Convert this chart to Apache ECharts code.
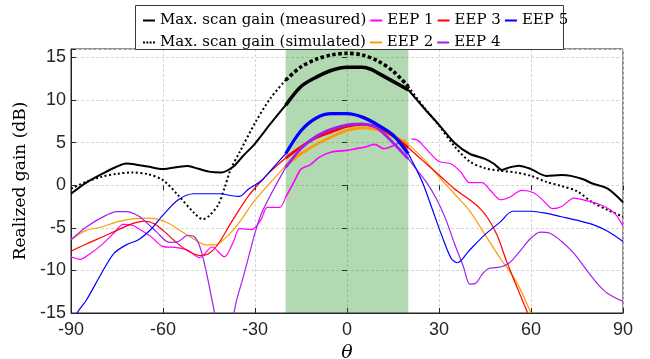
<!DOCTYPE html>
<html>
<head>
<meta charset="utf-8">
<script src="https://cdn.jsdelivr.net/npm/echarts@6/dist/echarts.min.js"></script>
<style>
  html, body { margin: 0; padding: 0; background: #fff; }
  #chart { width: 650px; height: 359px; }
</style>
</head>
<body>
<div id="chart"></div>
<script>
const xTicks = [-90, -60, -30, 0, 30, 60, 90];
const yTicks = [-15, -10, -5, 0, 5, 10, 15];
const band = [-20, 20];

const measTheta = [-90, -85, -80, -75, -72, -70, -65, -60, -55, -52, -50, -45, -41, -37, -34, -30, -25, -20, -15, -10, -5, 0, 5, 8, 10, 15, 20, 25, 30, 35, 40, 45, 48, 50.5, 53, 56, 60, 65, 70, 73, 77, 80, 85, 90];
const measGain = [-1.0, 0.3, 1.3, 2.2, 2.55, 2.5, 2.2, 1.9, 2.15, 2.25, 2.1, 1.6, 1.5, 2.2, 3.4, 4.9, 7.2, 9.4, 11.6, 12.7, 13.5, 13.85, 13.85, 13.6, 13.2, 12.2, 11.2, 9.1, 7.1, 5.0, 3.7, 3.1, 2.5, 1.8, 2.1, 2.3, 1.9, 1.1, 1.2, 1.1, 0.7, 0.2, -0.4, -2.0];

const simTheta = [-90, -85, -80, -75, -70, -65, -60, -55, -50, -47, -45, -42, -40, -38, -35, -30, -25, -20, -15, -10, -5, 0, 5, 10, 15, 20, 25, 30, 35, 40, 45, 50, 55, 60, 65, 70, 75, 80, 85, 90];
const simGain = [-0.4, 0.4, 1.0, 1.35, 1.5, 1.3, 0.6, -1.2, -3.2, -4.0, -3.6, -2.3, -0.4, 1.8, 3.9, 7.3, 10.2, 12.35, 13.9, 14.8, 15.3, 15.5, 15.3, 14.6, 13.4, 11.6, 9.2, 7.0, 4.6, 2.8, 2.0, 1.7, 1.5, 1.1, 0.4, -0.1, -0.7, -2.0, -2.9, -3.7];

const eep1Theta = [-90, -87, -84, -80, -76, -73, -70, -67, -64, -60, -56, -52, -48, -44, -40, -37, -35, -31, -28, -26, -22, -20, -17, -15, -12, -9, -5, 0, 3, 6, 9, 12, 16, 19, 21, 23, 25, 27, 30, 34, 37, 40, 44, 47, 50, 53, 57, 61, 64, 67, 70, 74, 78, 82, 86, 88, 90];
const eep1Gain = [-8.4, -8.7, -8.1, -7.0, -5.6, -4.6, -4.7, -5.3, -6.0, -7.2, -7.3, -7.6, -8.5, -7.25, -8.4, -6.6, -5.1, -5.2, -4.0, -2.6, -2.6, -1.4, 0.6, 1.9, 2.4, 3.3, 3.9, 4.1, 4.3, 4.5, 4.8, 4.3, 4.8, 5.3, 5.45, 5.3, 4.6, 3.8, 2.8, 2.5, 1.6, 0.3, 0.3, -0.7, -1.7, -1.4, -0.6, -0.9, -1.8, -2.75, -2.5, -1.5, -1.8, -2.2, -2.9, -3.6, -4.8];

const eep2Theta = [-90, -85, -80, -75, -70, -65, -62, -58, -55, -50, -46, -43, -40, -37, -34, -31, -28, -25, -20, -15, -10, -5, 0, 5, 10, 15, 20, 25, 30, 35, 40, 45, 50, 55, 60];
const eep2Gain = [-6.4, -5.3, -4.9, -4.3, -3.95, -3.85, -3.95, -4.5, -5.2, -6.3, -7.0, -7.0, -6.3, -5.2, -3.8, -2.2, -0.9, 0.3, 2.3, 3.7, 4.8, 5.7, 6.45, 6.75, 6.5, 5.8, 4.8, 3.1, 1.0, -1.0, -3.0, -5.8, -8.6, -11.2, -15.0];

const eep3Theta = [-90, -85, -80, -75, -70, -66, -63, -60, -56, -52, -48, -45, -42, -38, -35, -32, -28, -25, -20, -15, -10, -5, 0, 5, 10, 15, 20, 25, 30, 35, 40, 43, 46, 49, 52, 55, 58, 60];
const eep3Gain = [-7.75, -6.9, -6.1, -5.3, -4.5, -4.2, -4.5, -5.3, -6.6, -7.7, -8.25, -8.0, -6.9, -4.5, -2.8, -1.2, 0.5, 1.6, 3.2, 4.5, 5.6, 6.3, 6.9, 7.15, 6.85, 5.8, 4.4, 2.8, 1.2, -0.4, -1.7, -2.6, -3.9, -5.9, -8.9, -11.6, -14.2, -16.0];

const eep4Theta = [-90, -85, -80, -75, -72, -68, -65, -62, -58, -55, -52, -50, -48, -46, -44, -42, -40, -38, -36, -34, -32, -30, -28, -25, -20, -15, -10, -5, 0, 5, 8, 10, 15, 20, 23, 26, 29, 32, 35, 38, 40, 42, 44, 46, 50, 53, 56, 60, 63, 66, 70, 74, 78, 82, 85, 90];
const eep4Gain = [-6.4, -4.9, -3.8, -3.1, -3.1, -3.6, -4.5, -5.5, -6.7, -6.6, -5.9, -6.0, -7.2, -10.0, -13.5, -17.0, -19.0, -17.0, -13.5, -11.0, -8.3, -5.6, -3.4, -1.2, 2.1, 4.3, 5.75, 6.6, 7.1, 7.2, 7.0, 6.7, 5.0, 3.1, 1.7, 0.3, -1.5, -3.8, -6.8, -9.6, -11.6, -11.5, -10.5, -9.8, -9.6, -9.1, -7.9, -6.2, -5.5, -5.6, -6.6, -8.0, -9.9, -11.7, -12.7, -13.65];

const eep5Theta = [-90, -88, -85, -80, -76, -72, -68, -64, -60, -55, -50, -45, -41, -38, -35, -32, -28, -25, -20, -15, -10, -5, 0, 5, 10, 15, 20, 23, 25, 28, 31, 34, 36, 40, 45, 50, 54, 60, 65, 70, 75, 80, 85, 90];
const eep5Gain = [-17.5, -15.0, -13.5, -10.3, -8.0, -7.0, -6.4, -5.2, -3.5, -1.7, -1.0, -1.0, -1.0, -1.2, -1.3, -0.4, 0.5, 1.7, 3.7, 6.4, 7.9, 8.4, 8.4, 8.0, 7.1, 5.9, 3.7, 1.6, 0.0, -3.0, -6.0, -8.6, -9.1, -7.6, -5.8, -4.3, -3.05, -3.05, -3.3, -3.7, -4.1, -4.6, -5.4, -6.6];

const chart = echarts.init(document.getElementById('chart'));

// thin part outside the shaded band, with a break inside it
function outsideBand(t, g) {
  const d = [];
  let broke = false;
  t.forEach((x, i) => {
    if (x <= band[0] || x >= band[1]) d.push([x, g[i]]);
    else if (!broke) { d.push([x, '-']); broke = true; }
  });
  return d;
}
// thick part inside the band
function insideBand(t, g) {
  return t.map((x, i) => [x, g[i]]).filter(p => p[0] >= band[0] && p[0] <= band[1]);
}

function curve(name, t, g, color, thin, thick, dash, dashThick) {
  const base = {
    type: 'line', smooth: 0.3, showSymbol: false, symbol: 'none',
    z: 3, silent: true, animation: false
  };
  return [
    Object.assign({}, base, {
      name: name, data: outsideBand(t, g),
      lineStyle: { color: color, width: thin, type: dash || 'solid' },
      itemStyle: { color: color }
    }),
    Object.assign({}, base, {
      name: name + ' (band)', data: insideBand(t, g),
      lineStyle: { color: color, width: thick, type: dashThick || 'solid' },
      itemStyle: { color: color }
    })
  ];
}

const serif = 'DejaVu Serif';
const axisColor = '#262626';
const gridLine = { show: true, lineStyle: { color: '#d6d6d6', type: [3, 2], width: 1 } };
const legendText = { fontFamily: serif, fontSize: 15, color: '#000' };
const solidIcon = 'path://M0,0h12v2h-12z';
const dotIcon = 'path://M0,0h2v2h-2z M3.3,0h2v2h-2z M6.6,0h2v2h-2z M10,0h2v2h-2z';
const item = (name, icon) => ({ name: name, icon: icon || solidIcon });

const option = {
  backgroundColor: '#fff',
  animation: false,
  grid: {
    left: 71, right: 27, top: 49, bottom: 46,
    outerBoundsMode: 'none', containLabel: false,
    show: true, borderColor: axisColor, borderWidth: 1, backgroundColor: 'transparent'
  },
  graphic: [{
    type: 'rect', z: 5,
    shape: { x: 135.5, y: 5.5, width: 428, height: 44 },
    style: { fill: '#fff', stroke: '#3a3a3a', lineWidth: 1 }
  }],
  legend: [
    {
      data: [item('Max. scan gain (measured)'), item('EEP 1'), item('EEP 3'), item('EEP 5')],
      left: 138, top: 8, itemGap: 4, itemWidth: 12, itemHeight: 2, z: 10,
      selectedMode: false, textStyle: legendText
    },
    {
      data: [item('Max. scan gain (simulated)', dotIcon), item('EEP 2'), item('EEP 4')],
      left: 138, top: 30, itemGap: 4, itemWidth: 12, itemHeight: 2, z: 10,
      selectedMode: false, textStyle: legendText
    }
  ],
  xAxis: [
    {
      type: 'value', position: 'bottom', min: xTicks[0], max: xTicks[xTicks.length - 1], interval: 30,
      name: 'θ', nameLocation: 'middle', nameGap: 26,
      nameTextStyle: { fontFamily: serif, fontStyle: 'italic', fontSize: 19, color: '#000' },
      axisLine: { show: true, onZero: false, lineStyle: { color: axisColor } },
      axisTick: { show: true, inside: true, length: 5, lineStyle: { color: axisColor } },
      axisLabel: { fontFamily: 'Liberation Sans', fontSize: 18, color: '#262626', margin: 8 },
      splitLine: gridLine
    },
    {
      type: 'value', position: 'top', min: xTicks[0], max: xTicks[xTicks.length - 1], interval: 30,
      axisLine: { show: false },
      axisTick: { show: true, inside: true, length: 5, lineStyle: { color: axisColor } },
      axisLabel: { show: false }, splitLine: { show: false }
    }
  ],
  yAxis: [
    {
      type: 'value', position: 'left', min: yTicks[0], max: 16, interval: 5,
      name: 'Realized gain (dB)', nameLocation: 'middle', nameGap: 37,
      nameTextStyle: { fontFamily: serif, fontSize: 17, color: '#000' },
      axisLine: { show: true, onZero: false, lineStyle: { color: axisColor } },
      axisTick: { show: true, inside: true, length: 5, lineStyle: { color: axisColor } },
      axisLabel: {
        fontFamily: 'Liberation Sans', fontSize: 18, color: '#262626', margin: 5,
        formatter: v => (yTicks.indexOf(v) >= 0 ? String(v) : '')
      },
      splitLine: gridLine
    },
    {
      type: 'value', position: 'right', min: yTicks[0], max: 16, interval: 5,
      axisLine: { show: false },
      axisTick: { show: true, inside: true, length: 5, lineStyle: { color: axisColor } },
      axisLabel: { show: false }, splitLine: { show: false }
    }
  ],
  series: [
    {
      name: 'band', type: 'line', data: [], z: 1, silent: true,
      markArea: {
        silent: true,
        itemStyle: { color: 'rgba(0,128,0,0.3)' },
        data: [[{ xAxis: band[0] }, { xAxis: band[1] }]]
      }
    },
    ...curve('Max. scan gain (measured)', measTheta, measGain, '#000', 2, 3.6),
    ...curve('Max. scan gain (simulated)', simTheta, simGain, '#000', 2, 3.6, [2, 2.5], [3.5, 2.5]),
    ...curve('EEP 1', eep1Theta, eep1Gain, '#ff00ff', 1.2, 1.6),
    ...curve('EEP 2', eep2Theta, eep2Gain, '#ff9c00', 1.2, 2.8),
    ...curve('EEP 3', eep3Theta, eep3Gain, '#ff0000', 1.2, 2.8),
    ...curve('EEP 4', eep4Theta, eep4Gain, '#a020f0', 1.2, 2.8),
    ...curve('EEP 5', eep5Theta, eep5Gain, '#0000ff', 1.2, 3.2)
  ]
};

chart.setOption(option);
</script>
</body>
</html>
